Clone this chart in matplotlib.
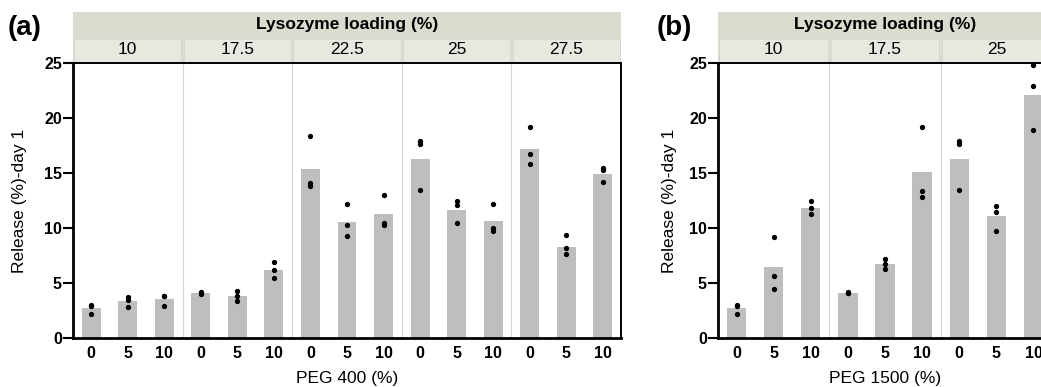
import matplotlib
matplotlib.use("Agg")
import matplotlib.pyplot as plt
from matplotlib.patches import Rectangle
import numpy as np

plt.rcParams['font.family'] = ['Liberation Sans', 'DejaVu Sans']

peg_levels = ["0", "5", "10"]

# Panel (a): PEG 400
groups_a = ["10", "17.5", "22.5", "25", "27.5"]
means_a = [2.7, 3.35, 3.55,
           4.05, 3.8, 6.15,
           15.4, 10.55, 11.3,
           16.3, 11.65, 10.6,
           17.2, 8.3, 14.95]
points_a = [[3.0, 2.9, 2.2], [3.75, 3.5, 2.8], [3.85, 3.8, 2.95],
            [4.2, 4.05, 4.0], [4.3, 3.8, 3.35], [6.95, 6.2, 5.45],
            [18.4, 14.1, 13.8], [12.15, 10.25, 9.3], [13.0, 10.45, 10.3],
            [17.9, 17.6, 13.5], [12.5, 12.05, 10.5], [12.15, 10.0, 9.75],
            [19.15, 16.7, 15.8], [9.4, 8.15, 7.6], [15.5, 15.25, 14.2]]

# Panel (b): PEG 1500
groups_b = ["10", "17.5", "25"]
means_b = [2.7, 6.42, 11.8,
           4.05, 6.7, 15.06,
           16.3, 11.06, 22.12]
points_b = [[3.0, 2.9, 2.2], [9.15, 5.6, 4.5], [12.45, 11.85, 11.3],
            [4.2, 4.1, 4.05], [7.15, 6.75, 6.3], [19.15, 13.35, 12.8],
            [17.9, 17.6, 13.5], [12.0, 11.45, 9.75], [24.8, 22.95, 18.9]]

header_title = "Lysozyme loading (%)"
ylabel = "Release (%)-day 1"
xlabel_a = "PEG 400 (%)"
xlabel_b = "PEG 1500 (%)"

W, H = 1041, 387
fig = plt.figure(figsize=(W / 100, H / 100), dpi=100)

BAR = "#bebebe"
TOP = "#dcdbcf"
CELL = "#e8e8e0"


def panel(left_px, right_px, groups, means, points, xlabel, tag, tag_x, ylab_x):
    bottom_px, top_px = 338, 63
    ax = fig.add_axes([left_px / W, (H - bottom_px) / H,
                       (right_px - left_px) / W, (bottom_px - top_px) / H])
    n = len(means)
    x = np.arange(n)
    ax.bar(x, means, width=0.52, color=BAR, zorder=2)
    for xi, pts in zip(x, points):
        ax.plot([xi] * len(pts), pts, 'o', color='black', ms=2.8, zorder=3,
                clip_on=False)
    ax.set_xlim(-0.5, n - 0.5)
    ax.set_ylim(0, 25)
    ax.set_yticks([0, 5, 10, 15, 20, 25])
    ax.set_xticks(x)
    ax.set_xticklabels(peg_levels * len(groups))
    ax.tick_params(axis='y', length=7, width=1.5, pad=1, labelsize=11.5)
    ax.tick_params(axis='x', length=0, pad=6, labelsize=11.5)
    for lab in ax.get_xticklabels() + ax.get_yticklabels():
        lab.set_fontweight('bold')
    for k in range(1, len(groups)):
        ax.axvline(3 * k - 0.5, color='#d4d4d4', lw=0.8, zorder=1)
    ax.spines['left'].set_linewidth(2.0)
    ax.spines['bottom'].set_linewidth(2.0)
    ax.spines['top'].set_linewidth(1.4)
    ax.spines['right'].set_linewidth(1.4)
    ax.set_ylabel(ylabel, fontsize=12.5)
    ax.yaxis.set_label_coords((ylab_x - left_px) / (right_px - left_px), 0.5)
    ax.set_xlabel(xlabel, fontsize=12.5, labelpad=7)

    # header strips
    tr = ax.get_xaxis_transform()
    h = bottom_px - top_px
    y_cell0 = (bottom_px - 62) / h
    y_cell1 = (bottom_px - 38) / h
    y_top1 = (bottom_px - 12) / h
    ax.add_patch(Rectangle((-0.5, y_cell0), n, y_top1 - y_cell0, transform=tr,
                           facecolor=TOP, edgecolor='none', clip_on=False, zorder=0))
    px_per_unit = (right_px - left_px) / n
    gap = 1.2 / px_per_unit
    for g, name in enumerate(groups):
        x0 = 3 * g - 0.5 + gap
        ax.add_patch(Rectangle((x0, y_cell0), 3 - 2 * gap, y_cell1 - y_cell0 - 0.003,
                               transform=tr, facecolor=CELL, edgecolor='#d6d6ce',
                               lw=0.6, clip_on=False, zorder=1))
        ax.text(3 * g + 1, (y_cell0 + y_cell1) / 2, name, transform=tr,
                ha='center', va='center', fontsize=12.5)
    ax.text((n - 1) / 2, (y_cell1 + y_top1) / 2, header_title, transform=tr,
            ha='center', va='center', fontsize=12.5, fontweight='bold')
    fig.text(tag_x / W, (H - 28) / H, tag, fontsize=20, fontweight='bold',
             ha='left', va='center')
    return ax


panel(73, 621, groups_a, means_a, points_a, xlabel_a, "(a)", 8, 27)
panel(718, 1052, groups_b, means_b, points_b, xlabel_b, "(b)", 657, 677)

fig.savefig("out.png", dpi=100)
